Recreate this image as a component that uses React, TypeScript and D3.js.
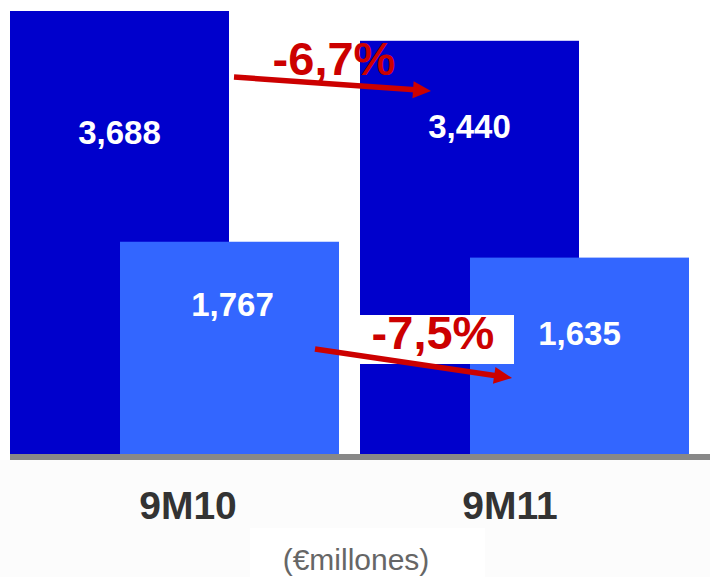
import React from "react";
import * as d3 from "d3";

// Nine-month figures, € millions
const periods = ["9M10", "9M11"];
const totalValues = [3688, 3440];
const subValues = [1767, 1635];
const unitLabel = "(€millones)";

const W = 710;
const H = 577;
const baseY = 454;

const DARK = "#0000CC";
const LIGHT = "#3366FF";
const RED = "#CC0000";
const FONT = "'Liberation Sans', Arial, Helvetica, sans-serif";

// where inside each bar its value label sits (fraction of bar value)
const totalLabelAt = [0.7, 0.765];
const subLabelAt = [0.65, 0.555];

const fmtValue = (v: number) => d3.format(",")(v);
const fmtChange = (a: number, b: number) =>
  d3
    .format(".1f")(((b - a) / a) * 100)
    .replace("\u2212", "-")
    .replace(".", ",") + "%";

export default function App() {
  const y = d3.scaleLinear().domain([0, 3688]).range([baseY, 11]);
  const x0 = d3
    .scaleBand<string>()
    .domain(periods)
    .range([10, 689])
    .paddingInner(0.06)
    .paddingOuter(0);
  const barW = 219;
  const shift = x0.bandwidth() - barW;
  const labelX = d3.scalePoint<string>().domain(periods).range([188, 510]);

  const arrows = [
    { x1: 234, y1: 77, x2: 431, y2: 91, text: fmtChange(totalValues[0], totalValues[1]), tx: 334, ty: 75, box: null as null | number[] },
    { x1: 315, y1: 349, x2: 512, y2: 378, text: fmtChange(subValues[0], subValues[1]), tx: 433, ty: 349, box: [360, 315, 154, 49] },
  ];

  const arrowPath = (a: { x1: number; y1: number; x2: number; y2: number }) => {
    const ang = Math.atan2(a.y2 - a.y1, a.x2 - a.x1);
    const len = 18;
    const hw = 8.5;
    const bx = a.x2 - len * Math.cos(ang);
    const by = a.y2 - len * Math.sin(ang);
    const px = -Math.sin(ang);
    const py = Math.cos(ang);
    return {
      shaft: [a.x1, a.y1, bx + 2 * Math.cos(ang), by + 2 * Math.sin(ang)],
      head: `M${a.x2},${a.y2}L${bx + hw * px},${by + hw * py}L${bx - hw * px},${by - hw * py}Z`,
    };
  };

  return (
    <svg
      width={W}
      height={H}
      style={{ position: "absolute", left: 0, top: 0, background: "#fff" }}
      fontFamily={FONT}
    >
      <rect x={0} y={460} width={W} height={H - 460} fill="#fcfcfc" />
      <rect x={250} y={528} width={235} height={H - 528} fill="#ffffff" />

      {periods.map((p, i) => {
        const gx = x0(p)!;
        return (
          <g key={p}>
            <rect x={gx} y={y(totalValues[i])} width={barW} height={baseY - y(totalValues[i])} fill={DARK} />
            <rect x={gx + shift} y={y(subValues[i])} width={barW} height={baseY - y(subValues[i])} fill={LIGHT} />
          </g>
        );
      })}

      {periods.map((p, i) => {
        const gx = x0(p)!;
        return (
          <g key={p + "l"} fill="#fff" fontWeight="bold" fontSize={33} textAnchor="middle">
            <text x={gx + barW / 2} y={y(totalValues[i] * totalLabelAt[i])}>
              {fmtValue(totalValues[i])}
            </text>
            <text x={gx + shift + barW / 2 + (i === 0 ? 3 : 0)} y={y(subValues[i] * subLabelAt[i])}>
              {fmtValue(subValues[i])}
            </text>
          </g>
        );
      })}

      <line x1={10} x2={W} y1={457} y2={457} stroke="#888888" strokeWidth={6} />

      {arrows.map((a, i) => {
        const g = arrowPath(a);
        return (
          <g key={"a" + i}>
            {a.box && <rect x={a.box[0]} y={a.box[1]} width={a.box[2]} height={a.box[3]} fill="#fff" />}
            <text x={a.tx} y={a.ty} fill={RED} fontWeight="bold" fontSize={47} textAnchor="middle">
              {a.text}
            </text>
            <line x1={g.shaft[0]} y1={g.shaft[1]} x2={g.shaft[2]} y2={g.shaft[3]} stroke={RED} strokeWidth={5.5} />
            <path d={g.head} fill={RED} />
          </g>
        );
      })}

      {periods.map((p) => (
        <text key={p + "c"} x={labelX(p)} y={519} fill="#333333" fontWeight="bold" fontSize={39} textAnchor="middle">
          {p}
        </text>
      ))}

      <text x={356} y={570} fill="#666666" fontSize={30} textAnchor="middle">
        {unitLabel}
      </text>
    </svg>
  );
}
